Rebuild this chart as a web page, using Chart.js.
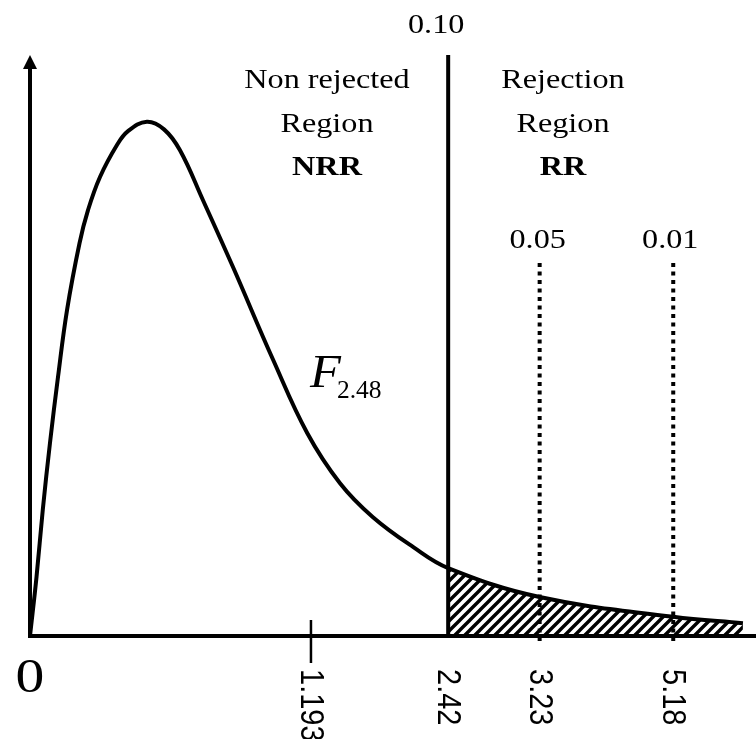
<!DOCTYPE html>
<html>
<head>
<meta charset="utf-8">
<title>F distribution rejection region</title>
<script src="https://cdn.jsdelivr.net/npm/chart.js@4.4.1/dist/chart.umd.min.js"></script>
<style>
    html, body { margin: 0; padding: 0; background: #ffffff; }
    #wrap { width: 756px; height: 739px; }
</style>
</head>
<body>
<div id="wrap"><canvas id="chart"></canvas></div>
<script>
// Schematic F(2,48) density (x: 0-100 drawing units, y: 0-100)
const curveX = [0, 0.90, 1.76, 2.75, 3.86, 5.10, 6.82, 7.99, 9.64, 11.98, 13.5, 16.1,
    18.46, 20.66, 23.83, 27.96, 33.5, 38.2, 42.7, 47.2, 52.8, 57.6, 70.2, 88.6, 98.2];
const curveY = [0, 10.2, 21.7, 33.2, 44.6, 56.1, 67.6, 73.3, 79.0, 84.5, 86.9, 88.5,
    87.2, 83.6, 75.0, 63.5, 47.5, 34.9, 26.3, 20.5, 15.3, 11.7, 6.7, 3.3, 2.2];

// Axis marks
const tickPos = [38.7, 57.6, 70.2, 88.6];
const tickLabels = ['1.193', '2.42', '3.23', '5.18'];

// Critical values (2.42, 3.23, 5.18) and their significance levels
const critPos = [57.6, 70.2, 88.6];
const alphaLabels = ['0.10', '0.05', '0.01'];
const critTop = [100, 64.2, 64.2];

const SERIF = '"Liberation Serif", "Times New Roman", serif';
const SANS = '"Liberation Sans", Arial, sans-serif';

Chart.defaults.datasets.line.clip = 12;

function hatchPattern() {
    var c = document.createElement('canvas');
    c.width = 10;
    c.height = 10;
    var g = c.getContext('2d');
    g.strokeStyle = '#000';
    g.lineWidth = 3.4;
    g.beginPath();
    g.moveTo(-1, 11); g.lineTo(11, -1);
    g.moveTo(-2, 2); g.lineTo(2, -2);
    g.moveTo(8, 12); g.lineTo(12, 8);
    g.stroke();
    return g.createPattern(c, 'repeat');
}

function drawText(ctx, str, x, y, font, align, sx) {
    ctx.save();
    ctx.translate(x, y);
    ctx.scale(sx || 1, 1);
    ctx.font = font;
    ctx.textAlign = align || 'center';
    ctx.textBaseline = 'alphabetic';
    ctx.fillStyle = '#000';
    ctx.fillText(str, 0, 0);
    ctx.restore();
}

const curvePts = curveX.map(function(x, i) { return { x: x, y: curveY[i] }; });
const tailPts = curvePts.filter(function(p) { return p.x >= critPos[0]; });

const datasets = [
    {
        data: tailPts,
        borderWidth: 0,
        borderColor: 'rgba(0,0,0,0)',
        backgroundColor: hatchPattern(),
        fill: 'origin',
        pointRadius: 0,
        tension: 0.4,
        order: 5,
    },
    {
        data: curvePts,
        borderColor: '#000',
        borderWidth: 4,
        fill: false,
        pointRadius: 0,
        tension: 0.4,
        order: 1,
    },
];

critPos.forEach(function(x, i) {
    datasets.push({
        data: [{ x: x, y: critTop[i] }, { x: x, y: i === 0 ? 0 : -1 }],
        borderColor: '#000',
        borderWidth: 4,
        borderDash: i === 0 ? [] : [4, 4.5],
        borderCapStyle: 'butt',
        fill: false,
        pointRadius: 0,
        order: 2,
    });
});

const annotations = {
    id: 'annotations',
    afterDraw: function(chart) {
        const ctx = chart.ctx;
        const xs = chart.scales.x;
        const ys = chart.scales.y;
        const x0 = xs.getPixelForValue(0);
        const y0 = ys.getPixelForValue(0);
        const yTop = ys.getPixelForValue(100);

        ctx.save();
        ctx.strokeStyle = '#000';
        ctx.fillStyle = '#000';
        ctx.lineWidth = 4;
        ctx.lineCap = 'butt';

        // x axis
        ctx.beginPath();
        ctx.moveTo(x0 - 2, y0);
        ctx.lineTo(chart.width, y0);
        ctx.stroke();

        // y axis with arrow head
        ctx.beginPath();
        ctx.moveTo(x0, y0 + 2);
        ctx.lineTo(x0, yTop + 12);
        ctx.stroke();
        ctx.beginPath();
        ctx.moveTo(x0, yTop);
        ctx.lineTo(x0 + 7, yTop + 14);
        ctx.lineTo(x0 - 7, yTop + 14);
        ctx.closePath();
        ctx.fill();

        // tick mark at the first label
        const tx = xs.getPixelForValue(tickPos[0]);
        ctx.lineWidth = 2.5;
        ctx.beginPath();
        ctx.moveTo(tx, y0 - 16);
        ctx.lineTo(tx, y0 + 27);
        ctx.stroke();
        ctx.restore();

        // origin label
        drawText(ctx, '0', x0, y0 + 56, '48px ' + SERIF, 'center', 1.2);

        // rotated tick labels, reading top to bottom
        tickPos.forEach(function(p, i) {
            ctx.save();
            ctx.translate(xs.getPixelForValue(p), y0 + 33);
            ctx.rotate(Math.PI / 2);
            ctx.scale(1, 1.12);
            ctx.font = '29px ' + SANS;
            ctx.textAlign = 'left';
            ctx.textBaseline = 'middle';
            ctx.fillStyle = '#000';
            ctx.fillText(tickLabels[i], 0, 1);
            ctx.restore();
        });

        // significance levels above the critical lines
        const alphaDx = [-12, -2, -3];
        critPos.forEach(function(p, i) {
            const px = xs.getPixelForValue(p) + alphaDx[i];
            const py = i === 0 ? 33 : 248;
            drawText(ctx, alphaLabels[i], px, py, '28px ' + SERIF, 'center', 1.15);
        });

        // region labels
        const nrrX = 327;
        const rrX = 563;
        drawText(ctx, 'Non rejected', nrrX, 88, '28px ' + SERIF, 'center', 1.15);
        drawText(ctx, 'Region', nrrX, 132, '28px ' + SERIF, 'center', 1.15);
        drawText(ctx, 'NRR', nrrX, 175, 'bold 28px ' + SERIF, 'center', 1.15);
        drawText(ctx, 'Rejection', rrX, 88, '28px ' + SERIF, 'center', 1.15);
        drawText(ctx, 'Region', rrX, 132, '28px ' + SERIF, 'center', 1.15);
        drawText(ctx, 'RR', rrX, 175, 'bold 28px ' + SERIF, 'center', 1.15);

        // distribution name
        drawText(ctx, 'F', 310, 387, 'italic 46px ' + SERIF, 'left', 1.1);
        drawText(ctx, '2.48', 337, 398, '26px ' + SERIF, 'left', 0.98);
    }
};

new Chart(document.getElementById('chart'), {
    type: 'line',
    data: { datasets: datasets },
    options: {
        responsive: true,
        maintainAspectRatio: false,
        animation: false,
        events: [],
        layout: { padding: { left: 30, right: 0, top: 55, bottom: 103 } },
        plugins: {
            legend: { display: false },
            tooltip: { enabled: false },
        },
        scales: {
            x: { type: 'linear', min: 0, max: 100, display: false },
            y: { type: 'linear', min: 0, max: 100, display: false },
        },
    },
    plugins: [annotations],
});
</script>
</body>
</html>
